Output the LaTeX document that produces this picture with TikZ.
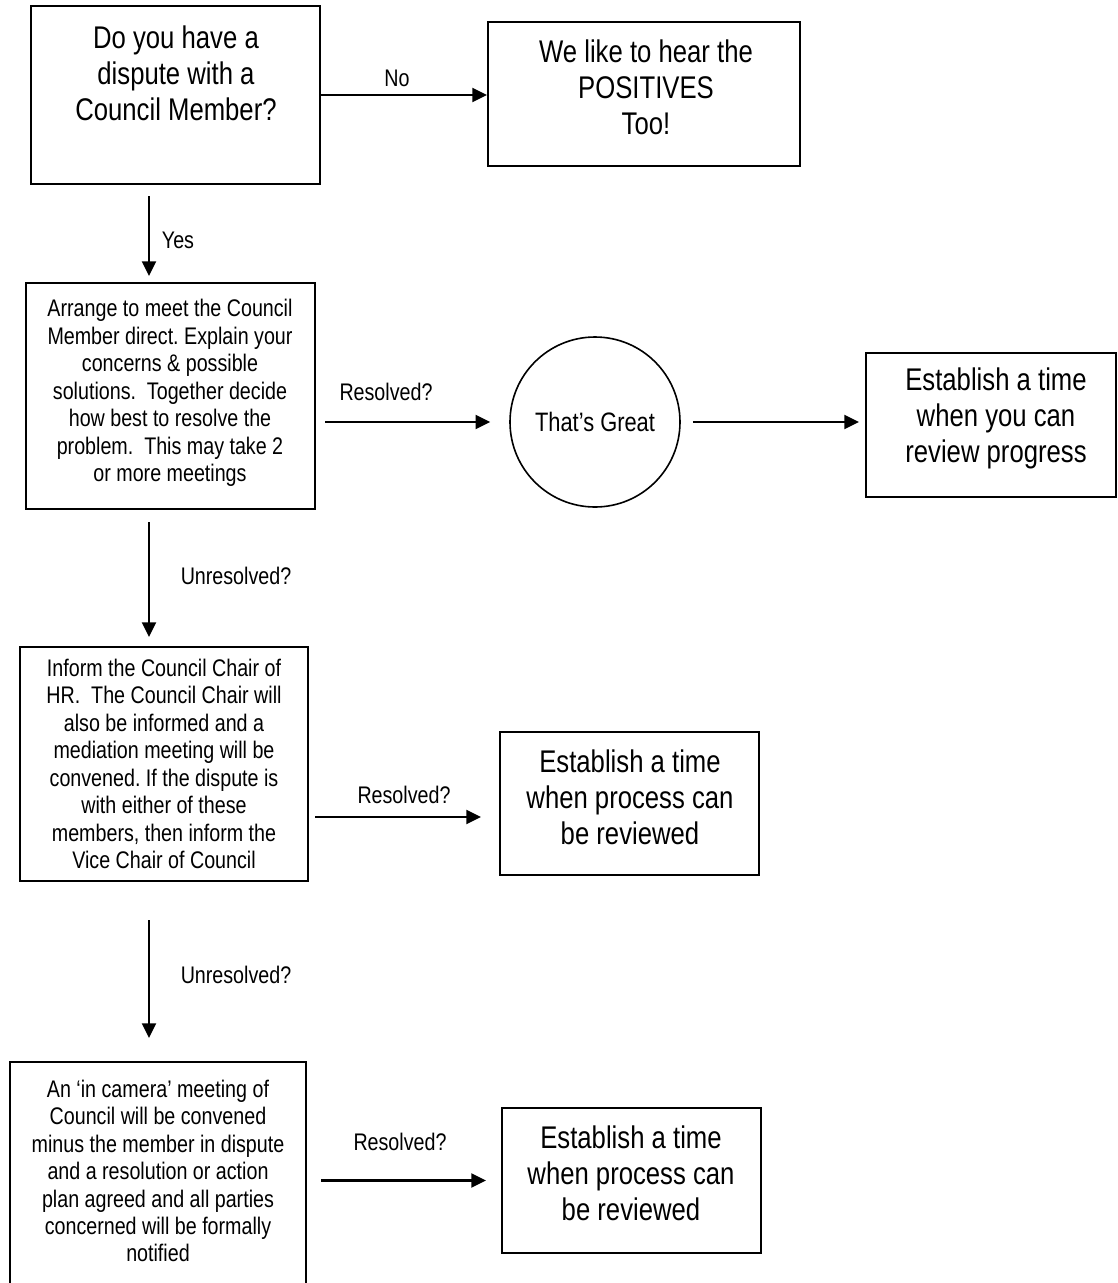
\documentclass[tikz,border=0pt]{standalone}
\usepackage{fontspec}
\setmainfont{Liberation Sans}[FakeStretch=0.82]
\usetikzlibrary{arrows.meta}
\frenchspacing

\begin{document}
\begin{tikzpicture}[x=0.75pt, y=-0.75pt,
  box/.style={draw, line width=1.5pt, rectangle, inner sep=0pt},
  ring/.style={draw, line width=1.2pt, circle, inner sep=0pt},
  bigtext/.style={inner sep=0pt, align=center, font=\fontsize{23.5pt}{27pt}\selectfont},
  smalltext/.style={inner sep=0pt, align=center, font=\fontsize{18pt}{20.6pt}\selectfont},
  tag/.style={inner sep=0pt, font=\fontsize{18pt}{20.6pt}\selectfont},
  arr/.style={line width=1.6pt, -{Triangle[length=11pt, width=10.5pt]}}
]
\useasboundingbox (0,0) rectangle (1118,1283);
\clip (0,0) rectangle (1118,1283);

% vertical spine of the main flow
\coordinate (spine) at (149,0);

% boxes
\node[box, minimum width=216.75pt, minimum height=133.5pt] (b1) at (175.5,95) {};
\node[box, minimum width=234pt, minimum height=108pt] (b2) at (644,94) {};
\node[box, minimum width=216.75pt, minimum height=169.5pt] (b3) at (170.5,396) {};
\node[ring, minimum size=127.5pt] (c) at (595,422) {};
\node[box, minimum width=187.5pt, minimum height=108pt] (b4) at (991,425) {};
\node[box, minimum width=216pt, minimum height=175.5pt] (b5) at (164,764) {};
\node[box, minimum width=194.25pt, minimum height=107.25pt] (b6) at (629.5,803.5) {};
\node[box, minimum width=222pt, minimum height=178.5pt] (b7) at (158,1181) {};
\node[box, minimum width=194.25pt, minimum height=108.75pt] (b8) at (631.5,1180.5) {};

% texts
\node[bigtext] (t1) at (176,73) {Do you have a\\dispute with a\\Council Member?};
\node[bigtext] (t2) at (646,87) {We like to hear the\\POSITIVES\\Too!};
\node[smalltext] (t3) at (170,393) {Arrange to meet the Council\\Member direct. Explain your\\concerns \& possible\\solutions.\ \ Together decide\\how best to resolve the\\problem.\ \ This may take 2\\or more meetings};
\node[inner sep=0pt, font=\fontsize{20pt}{23pt}\selectfont] (tc) at (595,422) {That’s Great};
\node[bigtext] (t4) at (996,418) {Establish a time\\when you can\\review progress};
\node[smalltext] (t5) at (164,764) {Inform the Council Chair of\\HR.\ \ The Council Chair will\\also be informed and a\\mediation meeting will be\\convened. If the dispute is\\with either of these\\members, then inform the\\Vice Chair of Council};
\node[bigtext] (t6) at (630,797) {Establish a time\\when process can\\be reviewed};
\node[smalltext] (t7) at (158,1171) {An ‘in camera’ meeting of\\Council will be convened\\minus the member in dispute\\and a resolution or action\\plan agreed and all parties\\concerned will be formally\\notified};
\node[bigtext] (t8) at (631,1173) {Establish a time\\when process can\\be reviewed};

% connectors
\draw[arr] (b1.east) -- (b1.east -| b2.west);
\draw[arr, shorten <=8.25pt, shorten >=4.5pt] (b1.south -| spine) -- (b3.north -| spine);
\draw[arr, shorten <=6.75pt, shorten >=14.25pt] (c.west -| b3.east) -- (c.west);
\draw[arr, shorten <=9pt, shorten >=4.5pt] (c.east) -- (c.east -| b4.west);
\draw[arr, shorten <=9pt, shorten >=6.75pt] (b3.south -| spine) -- (b5.north -| spine);
\coordinate (r2) at (0,817);
\draw[arr, shorten <=4.5pt, shorten >=13.5pt] (b5.east |- r2) -- (b6.west |- r2);
\draw[arr, shorten <=28.5pt, shorten >=17.25pt] (b5.south -| spine) -- (b7.north -| spine);
\draw[arr, shorten <=10.5pt, shorten >=11.25pt] (b7.east |- b8.west) -- (b8.west);

% connector labels
\node[tag] (lno) at (397,78) {No};
\node[tag] (lyes) at (178,240) {Yes};
\node[tag] (lr1) at (386,392) {Resolved?};
\node[tag] (lu1) at (236,576) {Unresolved?};
\node[tag] (lr2) at (404,795) {Resolved?};
\node[tag] (lu2) at (236,975) {Unresolved?};
\node[tag] (lr3) at (400,1142) {Resolved?};
\end{tikzpicture}
\end{document}
